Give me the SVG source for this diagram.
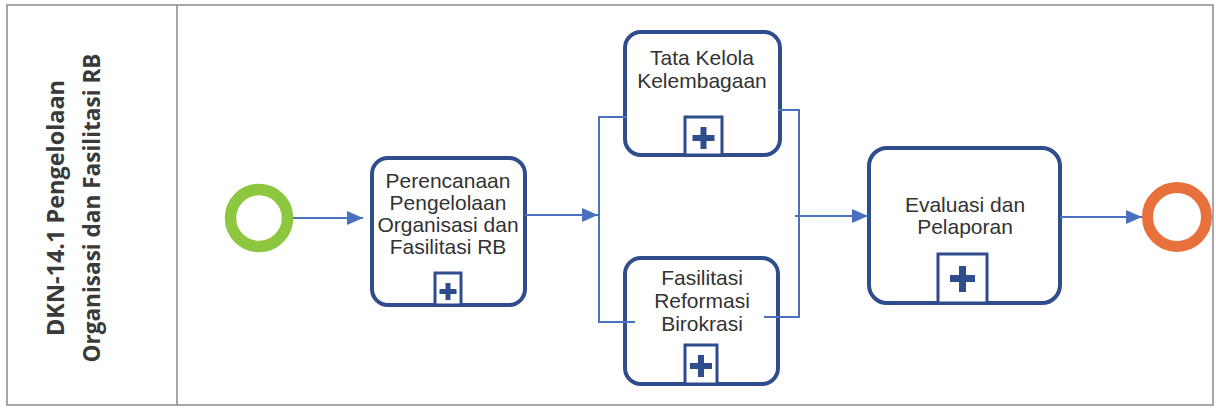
<svg xmlns="http://www.w3.org/2000/svg" width="1216" height="410" viewBox="0 0 1216 410">
<style>
.lane{fill:none;stroke:#8a8a8a;stroke-width:1.5}
.lbl{font-family:"Open Sans","Liberation Sans",sans-serif;font-weight:700;font-size:23px;fill:#3a3a3a}
.task{fill:#fff;stroke:#2f4d8c;stroke-width:4}
.mk{fill:#fff;stroke:#2f4d8c;stroke-width:3}
.cross{fill:#2f4d8c}
.t{font-family:"Liberation Sans",Arial,sans-serif;font-size:21px;fill:#333;text-anchor:middle}
.c{fill:none;stroke:#4a70c0;stroke-width:2}
</style>
<defs>
<marker id="ah" viewBox="0 0 16 14" refX="16" refY="7" markerWidth="16" markerHeight="14" markerUnits="userSpaceOnUse" orient="auto">
<path d="M0,0 L16,7 L0,14 Z" fill="#4a70c0"/>
</marker>
</defs>
<rect width="1216" height="410" fill="#fff"/>
<g id="lane">
<rect class="lane" x="7" y="5" width="1206" height="400"/>
<line class="lane" x1="177" y1="5" x2="177" y2="405"/>
<text class="lbl" transform="translate(64,208) rotate(-90)" text-anchor="middle" textLength="256" lengthAdjust="spacingAndGlyphs">DKN-14.1 Pengelolaan</text>
<text class="lbl" transform="translate(100,208) rotate(-90)" text-anchor="middle" textLength="309" lengthAdjust="spacingAndGlyphs">Organisasi dan Fasilitasi RB</text>
</g>
<g id="start">
<circle cx="259" cy="218" r="28.5" fill="#fff" stroke="#8dc63f" stroke-width="11.5"/>
</g>
<g id="perencanaan">
<rect class="task" x="372" y="158" width="153" height="147" rx="16"/>
<text class="t" x="448" y="188">Perencanaan</text>
<text class="t" x="448" y="210">Pengelolaan</text>
<text class="t" x="448" y="232">Organisasi dan</text>
<text class="t" x="448" y="254">Fasilitasi RB</text>
<rect class="mk" x="435" y="273" width="26" height="32"/>
<path class="cross" d="M445.5,283h5v6h6v5h-6v6h-5v-6h-6v-5h6z"/>
</g>
<g id="tatakelola">
<rect class="task" x="625" y="32" width="155" height="123" rx="16"/>
<text class="t" x="702" y="65">Tata Kelola</text>
<text class="t" x="702" y="88">Kelembagaan</text>
<rect class="mk" x="685" y="117" width="37" height="38"/>
<path class="cross" d="M700.5,127h6v8h8v6h-8v8h-6v-8h-8v-6h8z"/>
</g>
<g id="fasilitasi">
<rect class="task" x="625" y="258" width="153" height="126" rx="16"/>
<text class="t" x="702" y="285">Fasilitasi</text>
<text class="t" x="702" y="308">Reformasi</text>
<text class="t" x="702" y="331">Birokrasi</text>
<rect class="mk" x="685" y="345" width="32" height="39"/>
<path class="cross" d="M698,355h6v8h8v6h-8v8h-6v-8h-8v-6h8z"/>
</g>
<g id="evaluasi">
<rect class="task" x="869" y="148" width="191" height="155" rx="18"/>
<text class="t" x="965" y="212">Evaluasi dan</text>
<text class="t" x="965" y="234">Pelaporan</text>
<rect class="mk" x="938" y="254" width="49" height="49"/>
<path class="cross" d="M959,266h7v9h9v7h-9v10h-7v-10h-9v-7h9z"/>
</g>
<g id="end">
<circle cx="1177" cy="217" r="29.5" fill="#fff" stroke="#e8703a" stroke-width="11"/>
</g>
<g id="connectors">
<line class="c" x1="293" y1="218" x2="363" y2="218" marker-end="url(#ah)"/>
<line class="c" x1="525" y1="215" x2="598" y2="215" marker-end="url(#ah)"/>
<polyline class="c" points="627,117 599,117 599,322 635,322"/>
<polyline class="c" points="778,110 799,110 799,317 764,317"/>
<line class="c" x1="795" y1="216" x2="868" y2="216" marker-end="url(#ah)"/>
<line class="c" x1="1060" y1="217" x2="1142" y2="217" marker-end="url(#ah)"/>
</g>
</svg>
